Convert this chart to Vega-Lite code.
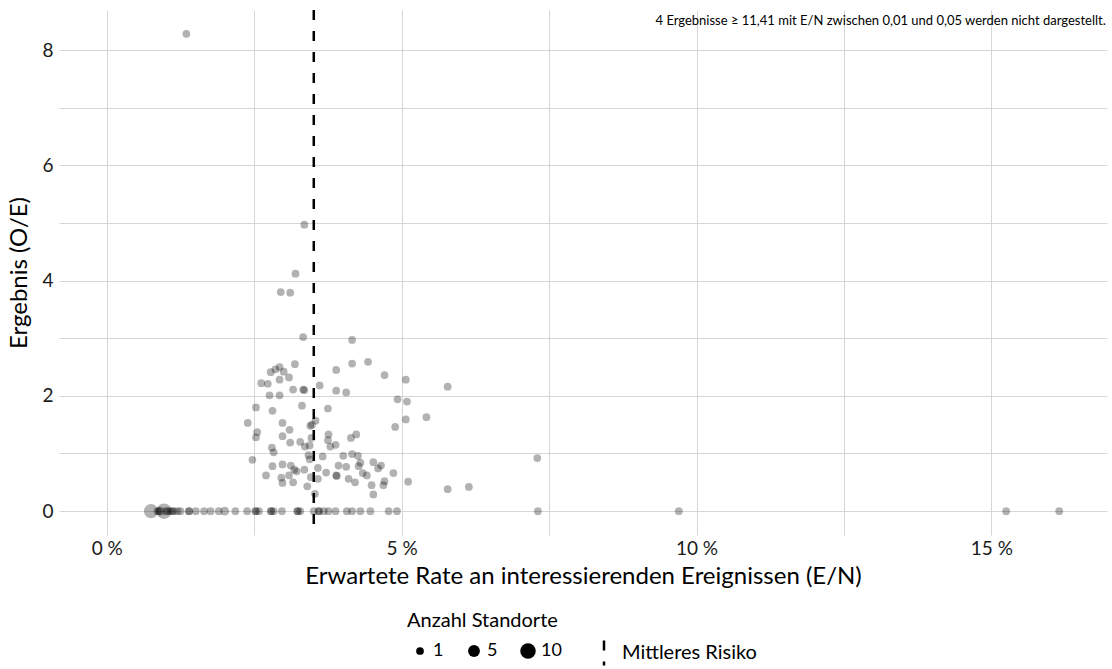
{
  "$schema": "https://vega.github.io/schema/vega-lite/v6.json",
  "width": 1048,
  "height": 525,
  "autosize": {"type": "none"},
  "padding": {"left": 59, "top": 10, "right": 5, "bottom": 134},
  "config": {
    "view": {"stroke": null},
    "font": "Lato",
    "axis": {
      "domain": false,
      "ticks": false,
      "grid": true,
      "gridColor": "#d6d6d6",
      "gridWidth": 1,
      "labelColor": "#1a1a1a",
      "titleColor": "#000",
      "labelFontSize": 19,
      "titleFontSize": 24,
      "titleFontWeight": "normal",
      "labelFlush": false,
      "labelOverlap": false
    },
    "legend": {
      "labelFontSize": 18,
      "titleFontSize": 20,
      "titleFontWeight": "normal",
      "labelColor": "#000",
      "titleColor": "#000"
    }
  },
  "layer": [
    {
      "data": {
        "values": [
          {"EN": 1.35, "OE": 8.28, "n": 1},
          {"EN": 3.35, "OE": 4.97, "n": 1},
          {"EN": 3.2, "OE": 4.12, "n": 1},
          {"EN": 2.95, "OE": 3.8, "n": 1},
          {"EN": 3.11, "OE": 3.79, "n": 1},
          {"EN": 3.33, "OE": 3.02, "n": 1},
          {"EN": 4.16, "OE": 2.97, "n": 1},
          {"EN": 3.19, "OE": 2.55, "n": 1},
          {"EN": 4.16, "OE": 2.56, "n": 1},
          {"EN": 4.43, "OE": 2.59, "n": 1},
          {"EN": 2.78, "OE": 2.41, "n": 1},
          {"EN": 2.86, "OE": 2.46, "n": 1},
          {"EN": 2.93, "OE": 2.5, "n": 1},
          {"EN": 3.0, "OE": 2.42, "n": 1},
          {"EN": 3.89, "OE": 2.45, "n": 1},
          {"EN": 4.71, "OE": 2.36, "n": 1},
          {"EN": 5.07, "OE": 2.28, "n": 1},
          {"EN": 2.62, "OE": 2.22, "n": 1},
          {"EN": 2.73, "OE": 2.21, "n": 1},
          {"EN": 2.93, "OE": 2.28, "n": 1},
          {"EN": 3.09, "OE": 2.32, "n": 1},
          {"EN": 3.61, "OE": 2.18, "n": 1},
          {"EN": 3.16, "OE": 2.11, "n": 1},
          {"EN": 3.33, "OE": 2.11, "n": 1},
          {"EN": 3.35, "OE": 2.1, "n": 1},
          {"EN": 3.89, "OE": 2.09, "n": 1},
          {"EN": 4.06, "OE": 2.06, "n": 1},
          {"EN": 2.76, "OE": 2.01, "n": 1},
          {"EN": 2.93, "OE": 2.01, "n": 1},
          {"EN": 4.93, "OE": 1.94, "n": 1},
          {"EN": 5.09, "OE": 1.9, "n": 1},
          {"EN": 2.53, "OE": 1.8, "n": 1},
          {"EN": 3.31, "OE": 1.83, "n": 1},
          {"EN": 3.75, "OE": 1.78, "n": 1},
          {"EN": 2.81, "OE": 1.74, "n": 1},
          {"EN": 2.39, "OE": 1.53, "n": 1},
          {"EN": 5.07, "OE": 1.59, "n": 1},
          {"EN": 4.89, "OE": 1.46, "n": 1},
          {"EN": 2.98, "OE": 1.53, "n": 1},
          {"EN": 3.54, "OE": 1.57, "n": 1},
          {"EN": 3.48, "OE": 1.5, "n": 1},
          {"EN": 3.45, "OE": 1.48, "n": 1},
          {"EN": 3.1, "OE": 1.41, "n": 1},
          {"EN": 2.55, "OE": 1.37, "n": 1},
          {"EN": 2.53, "OE": 1.28, "n": 1},
          {"EN": 2.98, "OE": 1.3, "n": 1},
          {"EN": 3.47, "OE": 1.27, "n": 1},
          {"EN": 3.76, "OE": 1.33, "n": 1},
          {"EN": 3.75, "OE": 1.23, "n": 1},
          {"EN": 4.23, "OE": 1.33, "n": 1},
          {"EN": 4.14, "OE": 1.27, "n": 1},
          {"EN": 3.11, "OE": 1.19, "n": 1},
          {"EN": 3.28, "OE": 1.2, "n": 1},
          {"EN": 3.44, "OE": 1.14, "n": 1},
          {"EN": 3.79, "OE": 1.12, "n": 1},
          {"EN": 3.88, "OE": 1.15, "n": 1},
          {"EN": 3.36, "OE": 1.12, "n": 1},
          {"EN": 2.8, "OE": 1.1, "n": 1},
          {"EN": 2.83, "OE": 1.02, "n": 1},
          {"EN": 2.47, "OE": 0.89, "n": 1},
          {"EN": 3.42, "OE": 0.97, "n": 1},
          {"EN": 3.44, "OE": 0.9, "n": 1},
          {"EN": 3.66, "OE": 0.95, "n": 1},
          {"EN": 4.01, "OE": 0.96, "n": 1},
          {"EN": 4.16, "OE": 0.99, "n": 1},
          {"EN": 4.26, "OE": 0.96, "n": 1},
          {"EN": 2.81, "OE": 0.78, "n": 1},
          {"EN": 2.98, "OE": 0.81, "n": 1},
          {"EN": 3.12, "OE": 0.79, "n": 1},
          {"EN": 3.18, "OE": 0.72, "n": 1},
          {"EN": 3.22, "OE": 0.69, "n": 1},
          {"EN": 3.35, "OE": 0.72, "n": 1},
          {"EN": 3.58, "OE": 0.75, "n": 1},
          {"EN": 3.93, "OE": 0.79, "n": 1},
          {"EN": 4.06, "OE": 0.77, "n": 1},
          {"EN": 4.27, "OE": 0.78, "n": 1},
          {"EN": 4.3, "OE": 0.84, "n": 1},
          {"EN": 4.52, "OE": 0.85, "n": 1},
          {"EN": 4.6, "OE": 0.74, "n": 1},
          {"EN": 4.65, "OE": 0.79, "n": 1},
          {"EN": 2.7, "OE": 0.62, "n": 1},
          {"EN": 2.96, "OE": 0.58, "n": 1},
          {"EN": 3.09, "OE": 0.62, "n": 1},
          {"EN": 3.16, "OE": 0.5, "n": 1},
          {"EN": 2.98, "OE": 0.49, "n": 1},
          {"EN": 3.46, "OE": 0.59, "n": 1},
          {"EN": 3.58, "OE": 0.56, "n": 1},
          {"EN": 3.72, "OE": 0.67, "n": 1},
          {"EN": 3.89, "OE": 0.62, "n": 1},
          {"EN": 3.9, "OE": 0.61, "n": 1},
          {"EN": 4.1, "OE": 0.56, "n": 1},
          {"EN": 4.21, "OE": 0.5, "n": 1},
          {"EN": 4.34, "OE": 0.66, "n": 1},
          {"EN": 4.41, "OE": 0.62, "n": 1},
          {"EN": 4.49, "OE": 0.45, "n": 1},
          {"EN": 4.52, "OE": 0.29, "n": 1},
          {"EN": 4.71, "OE": 0.52, "n": 1},
          {"EN": 4.69, "OE": 0.45, "n": 1},
          {"EN": 4.86, "OE": 0.66, "n": 1},
          {"EN": 5.11, "OE": 0.51, "n": 1},
          {"EN": 3.4, "OE": 0.43, "n": 1},
          {"EN": 3.53, "OE": 0.3, "n": 1},
          {"EN": 5.78, "OE": 2.16, "n": 1},
          {"EN": 5.42, "OE": 1.63, "n": 1},
          {"EN": 7.3, "OE": 0.92, "n": 1},
          {"EN": 5.78, "OE": 0.38, "n": 1},
          {"EN": 6.14, "OE": 0.42, "n": 1},
          {"EN": 0.75, "OE": 0, "n": 8},
          {"EN": 0.97, "OE": 0, "n": 10},
          {"EN": 0.86, "OE": 0, "n": 1},
          {"EN": 0.88, "OE": 0, "n": 1},
          {"EN": 0.91, "OE": 0, "n": 2},
          {"EN": 1.0, "OE": 0, "n": 1},
          {"EN": 1.03, "OE": 0, "n": 1},
          {"EN": 1.08, "OE": 0, "n": 1},
          {"EN": 1.11, "OE": 0, "n": 1},
          {"EN": 1.14, "OE": 0, "n": 1},
          {"EN": 1.2, "OE": 0, "n": 1},
          {"EN": 1.25, "OE": 0, "n": 1},
          {"EN": 1.39, "OE": 0, "n": 1},
          {"EN": 1.4, "OE": 0, "n": 1},
          {"EN": 1.51, "OE": 0, "n": 1},
          {"EN": 1.65, "OE": 0, "n": 1},
          {"EN": 1.76, "OE": 0, "n": 1},
          {"EN": 1.9, "OE": 0, "n": 1},
          {"EN": 2.0, "OE": 0, "n": 2},
          {"EN": 2.18, "OE": 0, "n": 1},
          {"EN": 2.38, "OE": 0, "n": 1},
          {"EN": 2.52, "OE": 0, "n": 1},
          {"EN": 2.53, "OE": 0, "n": 1},
          {"EN": 2.58, "OE": 0, "n": 1},
          {"EN": 2.78, "OE": 0, "n": 1},
          {"EN": 2.79, "OE": 0, "n": 1},
          {"EN": 2.83, "OE": 0, "n": 1},
          {"EN": 2.97, "OE": 0, "n": 1},
          {"EN": 3.23, "OE": 0, "n": 1},
          {"EN": 3.24, "OE": 0, "n": 1},
          {"EN": 3.28, "OE": 0, "n": 1},
          {"EN": 3.51, "OE": 0, "n": 1},
          {"EN": 3.59, "OE": 0, "n": 1},
          {"EN": 3.6, "OE": 0, "n": 1},
          {"EN": 3.68, "OE": 0, "n": 1},
          {"EN": 3.76, "OE": 0, "n": 1},
          {"EN": 3.88, "OE": 0, "n": 1},
          {"EN": 4.07, "OE": 0, "n": 1},
          {"EN": 4.16, "OE": 0, "n": 1},
          {"EN": 4.3, "OE": 0, "n": 1},
          {"EN": 4.47, "OE": 0, "n": 1},
          {"EN": 4.78, "OE": 0, "n": 1},
          {"EN": 4.92, "OE": 0, "n": 1},
          {"EN": 7.31, "OE": 0, "n": 1},
          {"EN": 9.7, "OE": 0, "n": 1},
          {"EN": 15.25, "OE": 0, "n": 1},
          {"EN": 16.15, "OE": 0, "n": 1}
        ]
      },
      "mark": {"type": "circle", "color": "#000000", "opacity": 0.3, "strokeWidth": 0},
      "encoding": {
        "x": {
          "field": "EN",
          "type": "quantitative",
          "scale": {"domain": [-0.81, 16.96], "nice": false, "zero": false},
          "axis": {
            "values": [0, 2.5, 5, 7.5, 10, 12.5, 15],
            "labelExpr": "datum.value % 5 === 0 ? datum.value + ' %' : ''",
            "labelPadding": 4,
            "title": "Erwartete Rate an interessierenden Ereignissen (E/N)",
            "titlePadding": 6
          }
        },
        "y": {
          "field": "OE",
          "type": "quantitative",
          "scale": {"domain": [-0.414, 8.694], "nice": false, "zero": false},
          "axis": {
            "values": [0, 1, 2, 3, 4, 5, 6, 7, 8],
            "labelExpr": "datum.value % 2 === 0 ? format(datum.value, 'd') : ''",
            "labelPadding": 6,
            "title": "Ergebnis (O/E)",
            "titlePadding": 10
          }
        },
        "size": {
          "field": "n",
          "type": "quantitative",
          "scale": {"domain": [1, 10], "range": [60, 240], "zero": false},
          "legend": {
            "title": "Anzahl Standorte",
            "orient": "none",
            "direction": "horizontal",
            "values": [1, 5, 10],
            "legendX": 348,
            "legendY": 601,
            "titlePadding": 11,
            "columnPadding": 7,
            "labelOffset": 4,
            "symbolOffset": 4,
            "gridAlign": "all",
            "symbolFillColor": "#000",
            "symbolOpacity": 1,
            "symbolStrokeWidth": 0
          }
        }
      }
    },
    {
      "data": {"values": [{"EN": 3.51, "label": "Mittleres Risiko"}]},
      "mark": {"type": "rule", "color": "#000", "strokeWidth": 2.5},
      "encoding": {
        "x": {"field": "EN", "type": "quantitative"},
        "strokeDash": {
          "field": "label",
          "type": "nominal",
          "scale": {"domain": ["Mittleres Risiko"], "range": [[10, 11]]},
          "legend": {
            "title": null,
            "orient": "none",
            "legendX": 531,
            "legendY": 629,
            "symbolType": "M0,-1L0,1",
            "symbolSize": 625,
            "symbolStrokeWidth": 2.5,
            "symbolStrokeColor": "#000",
            "symbolDash": [7, 8],
            "labelOffset": 4,
            "labelFontSize": 20
          }
        }
      }
    },
    {
      "data": {"values": [{"note": "4 Ergebnisse ≥ 11,41 mit E/N zwischen 0,01 und 0,05 werden nicht dargestellt."}]},
      "mark": {"type": "text", "align": "right", "baseline": "middle", "fontSize": 13, "color": "#000"},
      "encoding": {
        "x": {"datum": 16.94},
        "y": {"datum": 8.5},
        "text": {"field": "note"}
      }
    }
  ]
}
